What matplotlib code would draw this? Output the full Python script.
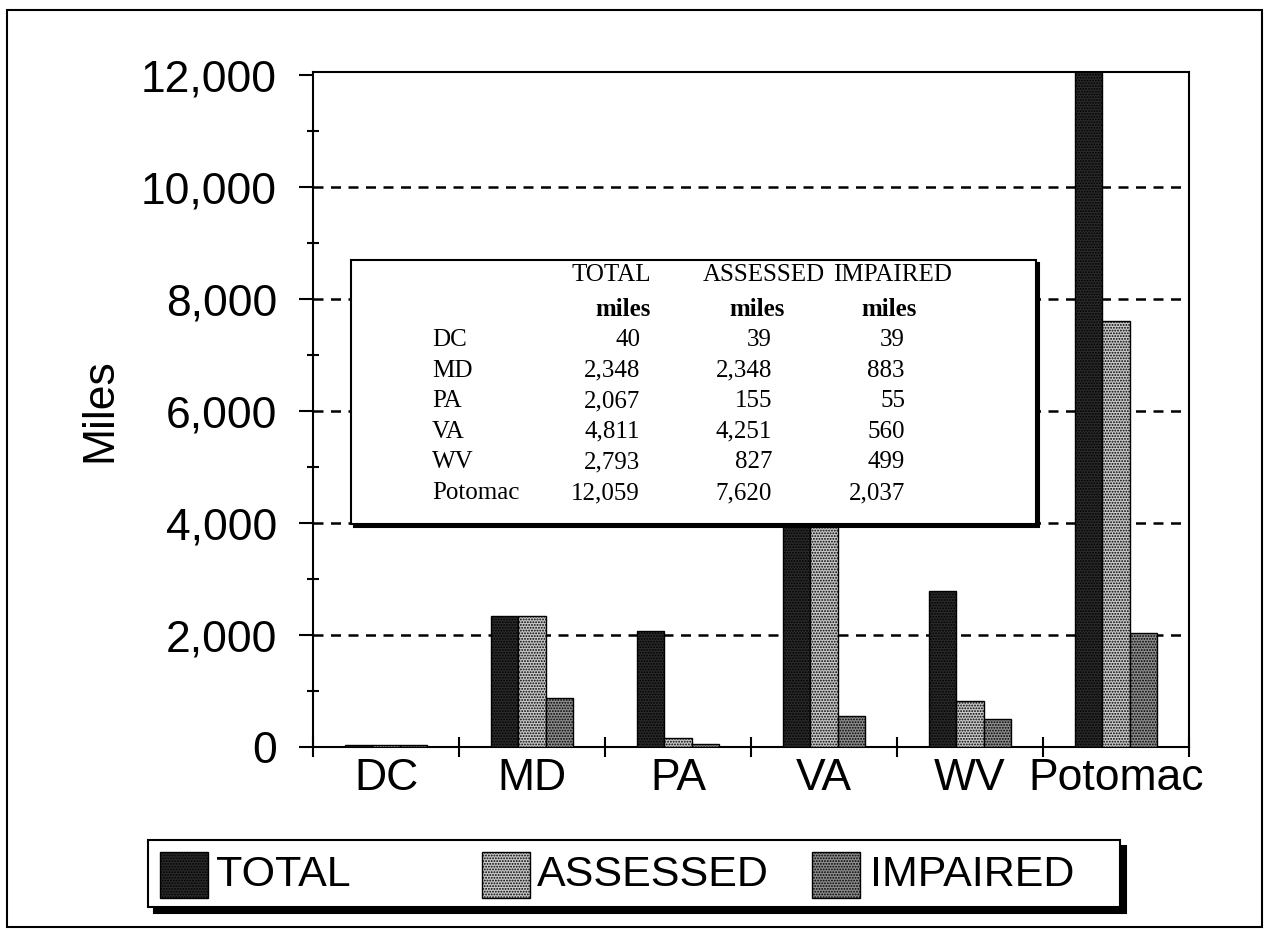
import matplotlib
matplotlib.use("Agg")
import matplotlib.pyplot as plt
from matplotlib.patches import Rectangle
from matplotlib.ticker import FixedLocator, StrMethodFormatter

regions = ["DC", "MD", "PA", "VA", "WV", "Potomac"]
total_miles = [40, 2348, 2067, 4811, 2793, 12059]
assessed_miles = [39, 2348, 155, 4251, 827, 7620]
impaired_miles = [39, 883, 55, 560, 499, 2037]
series_names = ["TOTAL", "ASSESSED", "IMPAIRED"]
y_ticks = [0, 2000, 4000, 6000, 8000, 10000, 12000]

SANS = "Liberation Sans"
SERIF = "Liberation Serif"
styles = {"TOTAL": "#2a2a2a", "ASSESSED": "#c8c8c8", "IMPAIRED": "#8e8e8e"}

plt.rcParams["hatch.linewidth"] = 0.9

W, H = 1265, 930
fig = plt.figure(figsize=(W / 100, H / 100), dpi=100)


def fx(px):
    return px / W


def fy(py):
    return 1 - py / H


def fig_box(x0, y0, x1, y1, lw=1.5, shadow=0):
    # box in pixel coords (top-left origin) with an optional drop shadow
    if shadow:
        fig.add_artist(Rectangle((fx(x0 + shadow), fy(y1 + shadow)), fx(x1 - x0), (y1 - y0) / H,
                                 transform=fig.transFigure, facecolor="black", edgecolor="black",
                                 lw=lw, zorder=5))
    fig.add_artist(Rectangle((fx(x0), fy(y1)), fx(x1 - x0), (y1 - y0) / H,
                             transform=fig.transFigure, facecolor="white", edgecolor="black",
                             lw=lw, zorder=6))


# outer frame
fig.add_artist(Rectangle((fx(7), fy(927)), fx(1255), 917 / H, transform=fig.transFigure,
                         facecolor="none", edgecolor="black", lw=1.5, zorder=1))

ax = fig.add_axes([fx(313), fy(747), fx(1189 - 313), (747 - 72) / H])

x = list(range(len(regions)))
width = 0.185
for k, (name, vals) in enumerate(zip(series_names, [total_miles, assessed_miles, impaired_miles])):
    ax.bar([xi + (k - 1) * width for xi in x], vals, width=width, facecolor=styles[name],
           edgecolor="black", hatch="......", lw=1.0, zorder=3)

ax.set_xlim(-0.5, len(regions) - 0.5)
ax.set_ylim(0, 12060)

ax.set_yticks(y_ticks)
ax.yaxis.set_major_formatter(StrMethodFormatter("{x:,.0f}"))
ax.yaxis.set_minor_locator(FixedLocator([1000, 3000, 5000, 7000, 9000, 11000]))
ax.set_xticks(x)
ax.set_xticklabels(regions)
ax.xaxis.set_minor_locator(FixedLocator([i - 0.5 for i in range(len(regions) + 1)]))

ax.tick_params(axis="y", which="major", direction="out", length=10, width=1.5, pad=16,
               labelsize=32, labelfontfamily=SANS)
ax.tick_params(axis="y", which="minor", direction="inout", length=8, width=1.5)
ax.tick_params(axis="x", which="major", length=0, pad=8, labelsize=32, labelfontfamily=SANS)
ax.tick_params(axis="x", which="minor", direction="inout", length=15, width=1.5)

for sp in ax.spines.values():
    sp.set_linewidth(1.5)

for yv in y_ticks[1:-1]:
    ax.axhline(yv, color="black", lw=1.8, linestyle=(0, (4, 3)), zorder=1)

fig.text(fx(100), fy(410), "Miles", rotation=90, ha="center", va="center",
         fontsize=32, family=SANS)

# data table inset
fig_box(351, 260, 1036, 524, lw=1.5, shadow=3)
col_right = [640, 772, 905]
miles_right = [651, 785, 917]
fig.text(fx(572), fy(275), "TOTAL", ha="left", va="center", fontsize=18, family=SERIF, zorder=7)
fig.text(fx(703), fy(275), "ASSESSED", ha="left", va="center", fontsize=18, family=SERIF, zorder=7)
fig.text(fx(833), fy(275), "IMPAIRED", ha="left", va="center", fontsize=18, family=SERIF, zorder=7)
for xr in miles_right:
    fig.text(fx(xr), fy(309), "miles", ha="right", va="center", fontsize=18, family=SERIF,
             weight="bold", zorder=7)
for i, name in enumerate(regions):
    yy = 340 + 30.6 * i
    fig.text(fx(432), fy(yy), name, ha="left", va="center", fontsize=18, family=SERIF, zorder=7)
    for xr, vals in zip(col_right, [total_miles, assessed_miles, impaired_miles]):
        fig.text(fx(xr), fy(yy), f"{vals[i]:,}", ha="right", va="center", fontsize=18,
                 family=SERIF, zorder=7)

# legend box
fig_box(148, 840, 1120, 907, lw=1.5, shadow=6)
legend_pos = [(160, 208, 216), (482, 530, 537), (812, 860, 870)]
for name, (p0, p1, tx) in zip(series_names, legend_pos):
    fig.add_artist(Rectangle((fx(p0), fy(898)), fx(p1 - p0), 46 / H, transform=fig.transFigure,
                             facecolor=styles[name], edgecolor="black", hatch="......", lw=1.0,
                             zorder=7))
    fig.text(fx(tx), fy(875), name, ha="left", va="center", fontsize=31, family=SANS, zorder=7)

fig.savefig("out.png", dpi=100)
